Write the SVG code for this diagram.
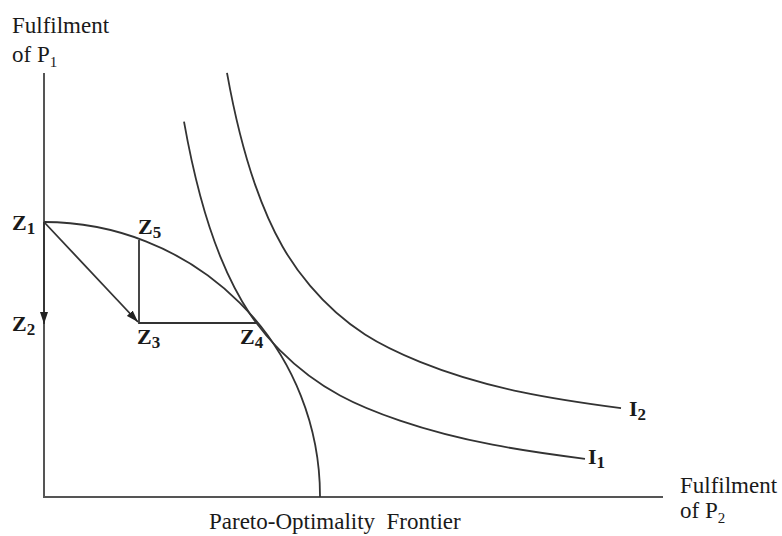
<svg xmlns="http://www.w3.org/2000/svg" width="782" height="536" viewBox="0 0 782 536">
<style>
text{font-family:"Liberation Serif","Times New Roman",serif;fill:#1a1a1a}
.t{font-size:23px}
.b{font-size:22px;font-weight:bold}
.s{font-size:15px}
.bs{font-size:17px}
.ax{stroke:#555;stroke-width:2;fill:none}
.c{stroke:#333;stroke-width:1.8;fill:none}
</style>
<defs>
<marker id="ah" viewBox="0 0 12 8" refX="12" refY="4" markerWidth="12" markerHeight="8" markerUnits="userSpaceOnUse" orient="auto">
<path d="M0,0 L12,4 L0,8 Z" fill="#222"/>
</marker>
</defs>
<g id="axes">
<line class="ax" x1="44" y1="73" x2="44" y2="497"/>
<line class="ax" x1="43" y1="497" x2="663" y2="497"/>
</g>
<g id="curves">
<path id="frontier" class="c" d="M44,222 A276,274 0 0 1 320,497"/>
<path id="I1" class="c" d="M184,121.7 C196,189.3 208,226.2 220,255.8 C240,305.1 260,330.1 280,350.3 C320,390.6 360,407 400,420.6 C461.7,441.6 523.3,451.1 585,458.8"/>
<path id="I2" class="c" d="M227,72.9 C236.3,124.6 245.7,157.7 255,184.4 C273.3,236.8 291.7,264 310,285.7 C346.7,329.2 383.3,347 420,361.9 C487,389 554,399.4 621,408.2"/>
</g>
<g id="connectors">
<line class="c" x1="44" y1="222" x2="44" y2="324" marker-end="url(#ah)"/>
<line class="c" x1="44" y1="222" x2="138" y2="322" marker-end="url(#ah)"/>
<polyline class="c" points="139,240 139,323 257,323"/>
</g>
<g id="labels">
<text class="t" x="12" y="33">Fulfilment</text>
<text class="t" x="12" y="62">of P<tspan class="s" dy="5">1</tspan></text>
<text class="t" x="680" y="493">Fulfilment</text>
<text class="t" x="680" y="518">of P<tspan class="s" dy="5">2</tspan></text>
<text class="t" x="209" y="529" xml:space="preserve">Pareto-Optimality  Frontier</text>
</g>
<g id="Z1"><text class="b" x="12" y="230">Z<tspan class="bs" dy="4">1</tspan></text></g>
<g id="Z2"><text class="b" x="12" y="331">Z<tspan class="bs" dy="4">2</tspan></text></g>
<g id="Z3"><text class="b" x="137" y="344">Z<tspan class="bs" dy="4">3</tspan></text></g>
<g id="Z4"><text class="b" x="240" y="344">Z<tspan class="bs" dy="4">4</tspan></text></g>
<g id="Z5"><text class="b" x="138" y="234">Z<tspan class="bs" dy="4">5</tspan></text></g>
<g id="I2l"><text class="b" x="629" y="416">I<tspan class="bs" dy="4">2</tspan></text></g>
<g id="I1l"><text class="b" x="588" y="464">I<tspan class="bs" dy="4">1</tspan></text></g>
</svg>
